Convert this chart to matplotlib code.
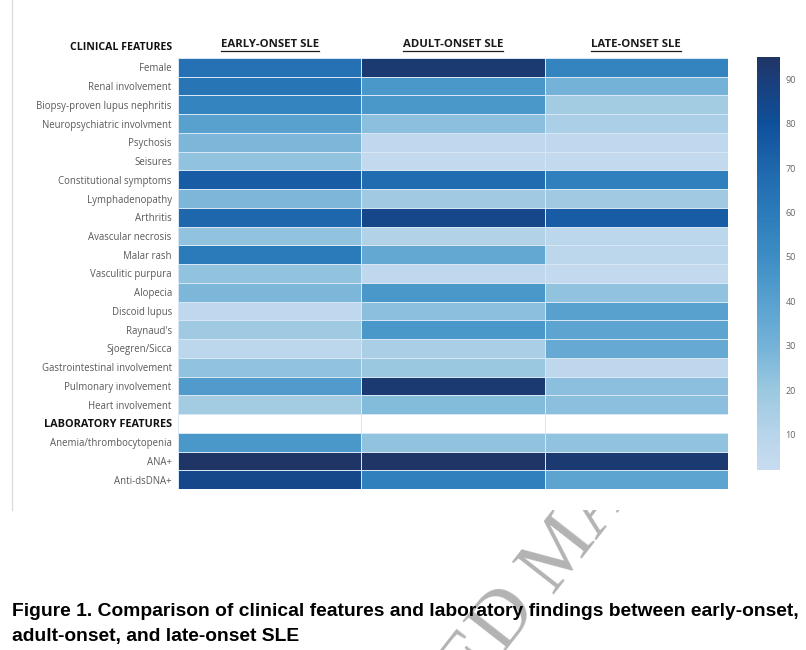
import numpy as np
import matplotlib.pyplot as plt
from matplotlib.colors import LinearSegmentedColormap
from matplotlib.lines import Line2D
from matplotlib.transforms import Bbox

# row labels
clinical = ["Female", "Renal involvement", "Biopsy-proven lupus nephritis",
            "Neuropsychiatric involvment", "Psychosis", "Seisures",
            "Constitutional symptoms", "Lymphadenopathy", "Arthritis",
            "Avascular necrosis", "Malar rash", "Vasculitic purpura", "Alopecia",
            "Discoid lupus", "Raynaud's", "Sjoegren/Sicca",
            "Gastrointestinal involvement", "Pulmonary involvement",
            "Heart involvement"]
lab = ["Anemia/thrombocytopenia", "ANA+", "Anti-dsDNA+"]
groups = ["EARLY-ONSET SLE", "ADULT-ONSET SLE", "LATE-ONSET SLE"]

# percentages
early_clin = [65, 63, 55, 40, 28, 22, 75, 28, 70, 22, 60, 22, 28, 6, 18, 8, 22, 43, 17]
adult_clin = [92, 45, 45, 24, 6, 5, 68, 18, 85, 12, 36, 6, 45, 24, 45, 15, 20, 92, 26]
late_clin = [55, 30, 17, 14, 6, 5, 57, 18, 75, 8, 8, 5, 22, 40, 38, 35, 7, 24, 24]
early_lab = [45, 95, 85]
adult_lab = [22, 95, 57]
late_lab = [22, 92, 38]

cbar_ticks = [10, 20, 30, 40, 50, 60, 70, 80, 90]
vmin, vmax = 2, 95

# matrix with an empty row for the "LABORATORY FEATURES" heading
blank = [np.nan] * 3
rows = [list(r) for r in zip(early_clin, adult_clin, late_clin)] + [blank] + \
       [list(r) for r in zip(early_lab, adult_lab, late_lab)]
data = np.ma.masked_invalid(np.array(rows, dtype=float))
labels = clinical + ["LABORATORY FEATURES"] + lab

# colour scale, light blue -> navy
def pos(v):
    return (v - vmin) / (vmax - vmin)

cmap = LinearSegmentedColormap.from_list("sle_blues", [
    (pos(2), "#c8dcf0"), (pos(10), "#b7d4ea"), (pos(20), "#9ac8e0"),
    (pos(30), "#74b2d8"), (pos(40), "#58a1cf"), (pos(50), "#3d8dc4"),
    (pos(60), "#2b7bba"), (pos(70), "#1f67ad"), (pos(80), "#0f509a"),
    (pos(90), "#1a3e7a"), (pos(95), "#1f3566")])

W, H = 806, 650
fig = plt.figure(figsize=(W / 100, H / 100), dpi=100)
fig.patch.set_facecolor("white")

ax = fig.add_axes([178 / W, 1 - 489 / H, 550 / W, 431 / H])
mesh = ax.pcolormesh(np.arange(4), np.arange(len(labels) + 1), data, cmap=cmap,
                     vmin=vmin, vmax=vmax, edgecolors="#d6e6f4", linewidth=0.6)
ax.set_xlim(0, 3)
ax.set_ylim(len(labels), 0)
ax.set_xticks([])
ax.set_yticks(np.arange(len(labels)) + 0.5)
ax.set_yticklabels(labels, fontfamily="Open Sans", fontsize=6.9, color="#5a5a5a")
ax.tick_params(length=0, pad=4.5)
for s in ax.spines.values():
    s.set_visible(False)
hdr = ax.get_yticklabels()[len(clinical)]
hdr.set_fontweight("bold")
hdr.set_color("#111111")
hdr.set_fontsize(7.8)

# column headings
heads = []
for i, g in enumerate(groups):
    heads.append(fig.text((178 + 183.3 * (i + 0.5)) / W, 1 - 44.5 / H, g,
                          ha="center", va="center", fontfamily="Open Sans",
                          fontweight="bold", fontsize=8.2, color="#1a1a1a"))
fig.text(172 / W, 1 - 48 / H, "CLINICAL FEATURES", ha="right", va="center",
         fontfamily="Open Sans", fontweight="bold", fontsize=7.6, color="#111111")

# colour bar
cax = fig.add_axes([757 / W, 1 - 470 / H, 23 / W, 413 / H])
cb = fig.colorbar(mesh, cax=cax, ticks=cbar_ticks)
cb.outline.set_visible(False)
cax.tick_params(length=0, pad=4, labelsize=6.5, labelcolor="#666666")
for t in cax.get_yticklabels():
    t.set_fontfamily("Open Sans")

# left border of the embedded image
fig.add_artist(Line2D([12 / W, 12 / W], [1, 1 - 510 / H], color="#dddddd", lw=1))

# caption
fig.text(12 / W, 1 - 611 / H,
         "Figure 1. Comparison of clinical features and laboratory findings between early-onset,",
         ha="left", va="center", fontfamily="Liberation Sans", fontweight="bold",
         fontsize=13.9, color="black", zorder=5)
fig.text(12 / W, 1 - 636 / H, "adult-onset, and late-onset SLE",
         ha="left", va="center", fontfamily="Liberation Sans", fontweight="bold",
         fontsize=13.9, color="black", zorder=5)

# watermark, only visible below the embedded image
clip = Bbox.from_extents(0, 0, W, H - 510)
anchor = (552 / W, 1 - 594 / H)
wm1 = fig.text(*anchor, "ACCEPTED ", ha="right", va="baseline", rotation=52,
               rotation_mode="anchor", fontfamily="Liberation Serif", fontsize=58,
               color="#b3b3b3", zorder=1)
wm2 = fig.text(*anchor, "MANUSCRIPT", ha="left", va="baseline", rotation=52,
               rotation_mode="anchor", fontfamily="Liberation Serif", fontsize=58,
               color="#b3b3b3", zorder=1)
for wm in (wm1, wm2):
    wm.set_clip_box(clip)
    wm.set_clip_on(True)

# underline the column headings
fig.canvas.draw()
inv = fig.transFigure.inverted()
for t in heads:
    bb = t.get_window_extent()
    (x0, y0), (x1, _) = inv.transform([(bb.x0, bb.y0 - 0.5), (bb.x1, bb.y0)])
    fig.add_artist(Line2D([x0, x1], [y0, y0], color="#1a1a1a", lw=0.9))

fig.savefig("out.png", dpi=100)
